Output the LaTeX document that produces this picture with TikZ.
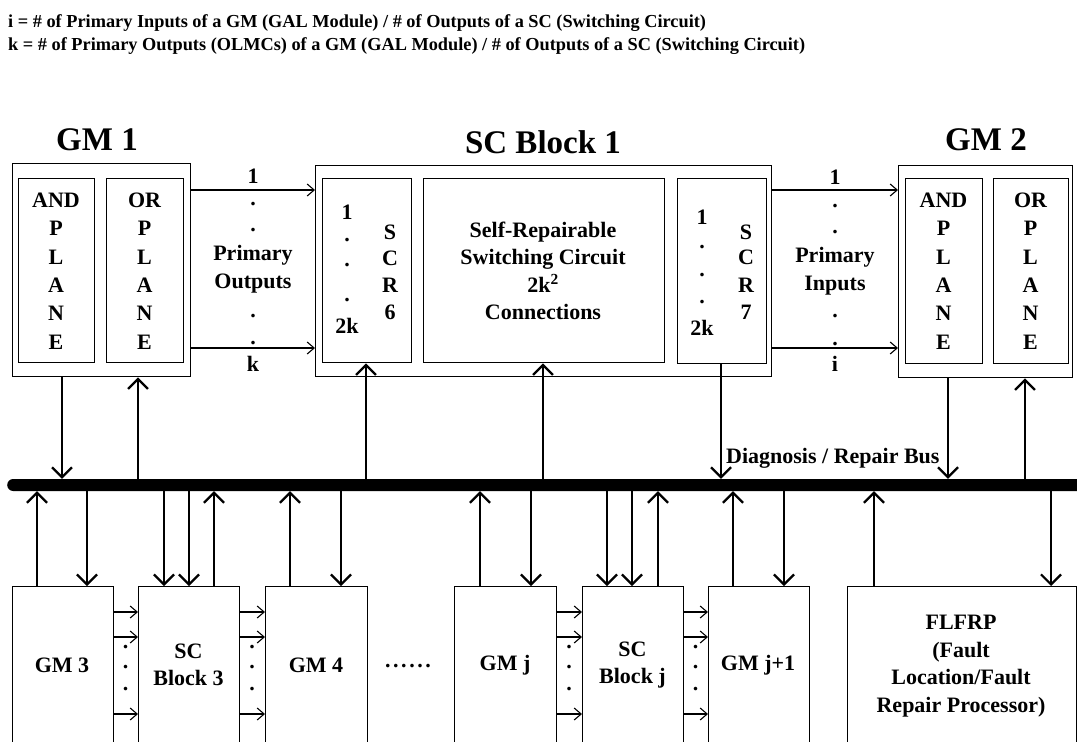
\documentclass[tikz,border=0pt]{standalone}
\usepackage{fontspec}
\setmainfont{Liberation Serif}
\usetikzlibrary{arrows.meta}
\begin{document}
\begin{tikzpicture}[x=1pt,y=-1pt,
  box/.style={draw, line width=1.4pt, inner sep=0pt, anchor=north west},
  txt/.style={font=\fontsize{22}{28.4}\selectfont\bfseries, inner sep=0pt, align=center},
  txtb/.style={font=\fontsize{22}{27.5}\selectfont\bfseries, inner sep=0pt, align=center},
  ttl/.style={font=\fontsize{33}{33}\selectfont\bfseries, inner sep=0pt},
  hdr/.style={font=\fontsize{18.3}{23}\selectfont\bfseries, inner sep=0pt, anchor=base west},
  sig/.style={line width=1.1pt, -{Straight Barb[length=7pt,width=12pt]}},
  bar/.style={line width=2.2pt, -{Straight Barb[length=10pt,width=20pt]}},
]
\useasboundingbox (0,0) rectangle (1077,742);
% header
\node[hdr] (h1) at (8,27) {i = \# of Primary Inputs of a GM (GAL Module) / \# of Outputs of a SC (Switching Circuit)};
\node[hdr] (h2) at (8,50) {k = \# of Primary Outputs (OLMCs) of a GM (GAL Module) / \# of Outputs of a SC (Switching Circuit)};
% titles
\node[ttl] (t1) at (97,140) {GM 1};
\node[ttl] (t2) at (543,142) {SC Block 1};
\node[ttl] (t3) at (986,140) {GM 2};
% GM1
\node[box, minimum width=178pt, minimum height=213pt] (gm1) at (12,163) {};
\node[box, minimum width=76pt, minimum height=184pt] (gm1a) at (18,178) {};
\node[box, minimum width=77pt, minimum height=184pt] (gm1o) at (106,178) {};
\node[txt] (gm1at) at (56,271) {AND\\P\\L\\A\\N\\E};
\node[txt] (gm1ot) at (144.5,271) {OR\\P\\L\\A\\N\\E};
% SC block 1
\node[box, minimum width=456pt, minimum height=211pt] (sc1) at (315,165) {};
\node[box, minimum width=89pt, minimum height=184pt] (scr6) at (322,178) {};
\node[box, minimum width=241pt, minimum height=184pt] (ctr) at (423,178) {};
\node[box, minimum width=89pt, minimum height=185pt] (scr7) at (677,178) {};
\node[txtb] (ctrt) at (543,271) {Self-Repairable\\Switching Circuit\\2k\textsuperscript{2}\\Connections};
% SCR6 texts
\node[txt] (s6a) at (347,212) {1};
\node[txt] (s6b) at (347,240) {.};
\node[txt] (s6c) at (347,265) {.};
\node[txt] (s6d) at (347,300) {.};
\node[txt] (s6e) at (347,326) {2k};
\node[txt] (s6s) at (390,232) {S};
\node[txt] (s6t) at (390,258) {C};
\node[txt] (s6u) at (390,285) {R};
\node[txt] (s6v) at (390,312) {6};
% SCR7 texts
\node[txt] (s7a) at (702,217) {1};
\node[txt] (s7b) at (702,247) {.};
\node[txt] (s7c) at (702,275) {.};
\node[txt] (s7d) at (702,302) {.};
\node[txt] (s7e) at (702,328) {2k};
\node[txt] (s7s) at (746,232) {S};
\node[txt] (s7t) at (746,257) {C};
\node[txt] (s7u) at (746,285) {R};
\node[txt] (s7v) at (746,312) {7};
% GM2
\node[box, minimum width=174pt, minimum height=212pt] (gm2) at (898,165) {};
\node[box, minimum width=77pt, minimum height=185pt] (gm2a) at (905,178) {};
\node[box, minimum width=75pt, minimum height=185pt] (gm2o) at (993,178) {};
\node[txt] (gm2at) at (943.5,271) {AND\\P\\L\\A\\N\\E};
\node[txt] (gm2ot) at (1030.5,271) {OR\\P\\L\\A\\N\\E};
% primary outputs / inputs
\coordinate (ya) at (0,190);
\coordinate (yb) at (0,348);
\draw[sig] (gm1.east |- ya) -- (sc1.west |- ya);
\draw[sig] (gm1.east |- yb) -- (sc1.west |- yb);
\draw[sig] (sc1.east |- ya) -- (gm2.west |- ya);
\draw[sig] (sc1.east |- yb) -- (gm2.west |- yb);
\node[txt] (po1) at (253,176) {1};
\node[txt] (po2) at (253,204) {.};
\node[txt] (po3) at (253,230) {.};
\node[txt] (po4) at (253,269) {Primary\\Outputs};
\node[txt] (po5) at (253,316) {.};
\node[txt] (po6) at (253,343) {.};
\node[txt] (po7) at (253,364) {k};
\node[txt] (pi1) at (835,177) {1};
\node[txt] (pi2) at (835,206) {.};
\node[txt] (pi3) at (835,232) {.};
\node[txt] (pi4) at (835,271) {Primary\\Inputs};
\node[txt] (pi5) at (835,316) {.};
\node[txt] (pi6) at (835,344) {.};
\node[txt] (pi7) at (835,364) {i};
% bus
\node[fill=black, inner sep=0pt, minimum width=1085pt, minimum height=12pt, rounded corners=6pt, anchor=west] (bus) at (7,485) {};
\node[txtb, anchor=west] (busl) at (726,458) {Diagnosis / Repair Bus};
% top connections
\coordinate (c1) at (62,0);
\coordinate (c2) at (138,0);
\coordinate (c3) at (366,0);
\coordinate (c4) at (543,0);
\coordinate (c5) at (721,0);
\coordinate (c6) at (948,0);
\coordinate (c7) at (1025,0);
\draw[bar] (c1 |- gm1.south) -- (c1 |- bus.north);
\draw[bar] (c2 |- bus.north) -- (c2 |- gm1.south);
\draw[bar] (c3 |- bus.north) -- (c3 |- scr6.south);
\draw[bar] (c4 |- bus.north) -- (c4 |- ctr.south);
\draw[bar] (c5 |- scr7.south) -- (c5 |- bus.north);
\draw[bar] (c6 |- gm2.south) -- (c6 |- bus.north);
\draw[bar] (c7 |- bus.north) -- (c7 |- gm2.south);
% bottom boxes
\node[box, minimum width=101pt, minimum height=165pt] (gm3) at (12,586) {};
\node[box, minimum width=101pt, minimum height=165pt] (sc3) at (138,586) {};
\node[box, minimum width=102pt, minimum height=165pt] (gm4) at (265,586) {};
\node[box, minimum width=102pt, minimum height=165pt] (gmj) at (454,586) {};
\node[box, minimum width=101pt, minimum height=165pt] (scj) at (582,586) {};
\node[box, minimum width=101pt, minimum height=165pt] (gmk) at (708,586) {};
\node[box, minimum width=229pt, minimum height=165pt] (fl) at (847,586) {};
\node[txt] (gm3t) at (62,665) {GM 3};
\node[txtb] (sc3t) at (188.5,665) {SC\\Block 3};
\node[txt] (gm4t) at (316,665) {GM 4};
\node[txt] (dots) at (408,666) {.\kern2.6pt.\kern2.6pt.\kern2.6pt.\kern2.6pt.\kern2.6pt.};
\node[txt] (gmjt) at (505,665) {GM j};
\node[txtb] (scjt) at (632.5,665) {SC\\Block j};
\node[txt] (gmkt) at (758,665) {GM j+1};
\node[txtb] (flt) at (961,666) {FLFRP\\(Fault\\Location/Fault\\Repair Processor)};
% bottom bus connections
\coordinate (d1) at (37,0);
\coordinate (d2) at (87,0);
\coordinate (d3) at (164,0);
\coordinate (d4) at (189,0);
\coordinate (d5) at (214,0);
\coordinate (d6) at (290,0);
\coordinate (d7) at (341,0);
\coordinate (d8) at (480,0);
\coordinate (d9) at (531,0);
\coordinate (d10) at (607,0);
\coordinate (d11) at (632,0);
\coordinate (d12) at (658,0);
\coordinate (d13) at (733,0);
\coordinate (d14) at (784,0);
\coordinate (d15) at (874,0);
\coordinate (d16) at (1051,0);
\draw[bar] (d1 |- gm3.north) -- (d1 |- bus.south);
\draw[bar] (d2 |- bus.south) -- (d2 |- gm3.north);
\draw[bar] (d3 |- bus.south) -- (d3 |- sc3.north);
\draw[bar] (d4 |- bus.south) -- (d4 |- sc3.north);
\draw[bar] (d5 |- sc3.north) -- (d5 |- bus.south);
\draw[bar] (d6 |- gm4.north) -- (d6 |- bus.south);
\draw[bar] (d7 |- bus.south) -- (d7 |- gm4.north);
\draw[bar] (d8 |- gmj.north) -- (d8 |- bus.south);
\draw[bar] (d9 |- bus.south) -- (d9 |- gmj.north);
\draw[bar] (d10 |- bus.south) -- (d10 |- scj.north);
\draw[bar] (d11 |- bus.south) -- (d11 |- scj.north);
\draw[bar] (d12 |- scj.north) -- (d12 |- bus.south);
\draw[bar] (d13 |- gmk.north) -- (d13 |- bus.south);
\draw[bar] (d14 |- bus.south) -- (d14 |- gmk.north);
\draw[bar] (d15 |- fl.north) -- (d15 |- bus.south);
\draw[bar] (d16 |- bus.south) -- (d16 |- fl.north);
% bottom signals
\coordinate (e1) at (0,612);
\coordinate (e2) at (0,637);
\coordinate (e3) at (0,714);
\foreach \l/\r in {gm3/sc3, sc3/gm4, gmj/scj, scj/gmk} {
  \draw[sig] (\l.east |- e1) -- (\r.west |- e1);
  \draw[sig] (\l.east |- e2) -- (\r.west |- e2);
  \draw[sig] (\l.east |- e3) -- (\r.west |- e3);
}
\node[txt] (p1a) at (125.5,647) {.};
\node[txt] (p1b) at (125.5,667) {.};
\node[txt] (p1c) at (125.5,689) {.};
\node[txt] (p2a) at (252,647) {.};
\node[txt] (p2b) at (252,667) {.};
\node[txt] (p2c) at (252,689) {.};
\node[txt] (p3a) at (569,647) {.};
\node[txt] (p3b) at (569,667) {.};
\node[txt] (p3c) at (569,689) {.};
\node[txt] (p4a) at (695.5,647) {.};
\node[txt] (p4b) at (695.5,667) {.};
\node[txt] (p4c) at (695.5,689) {.};
\end{tikzpicture}
\end{document}
